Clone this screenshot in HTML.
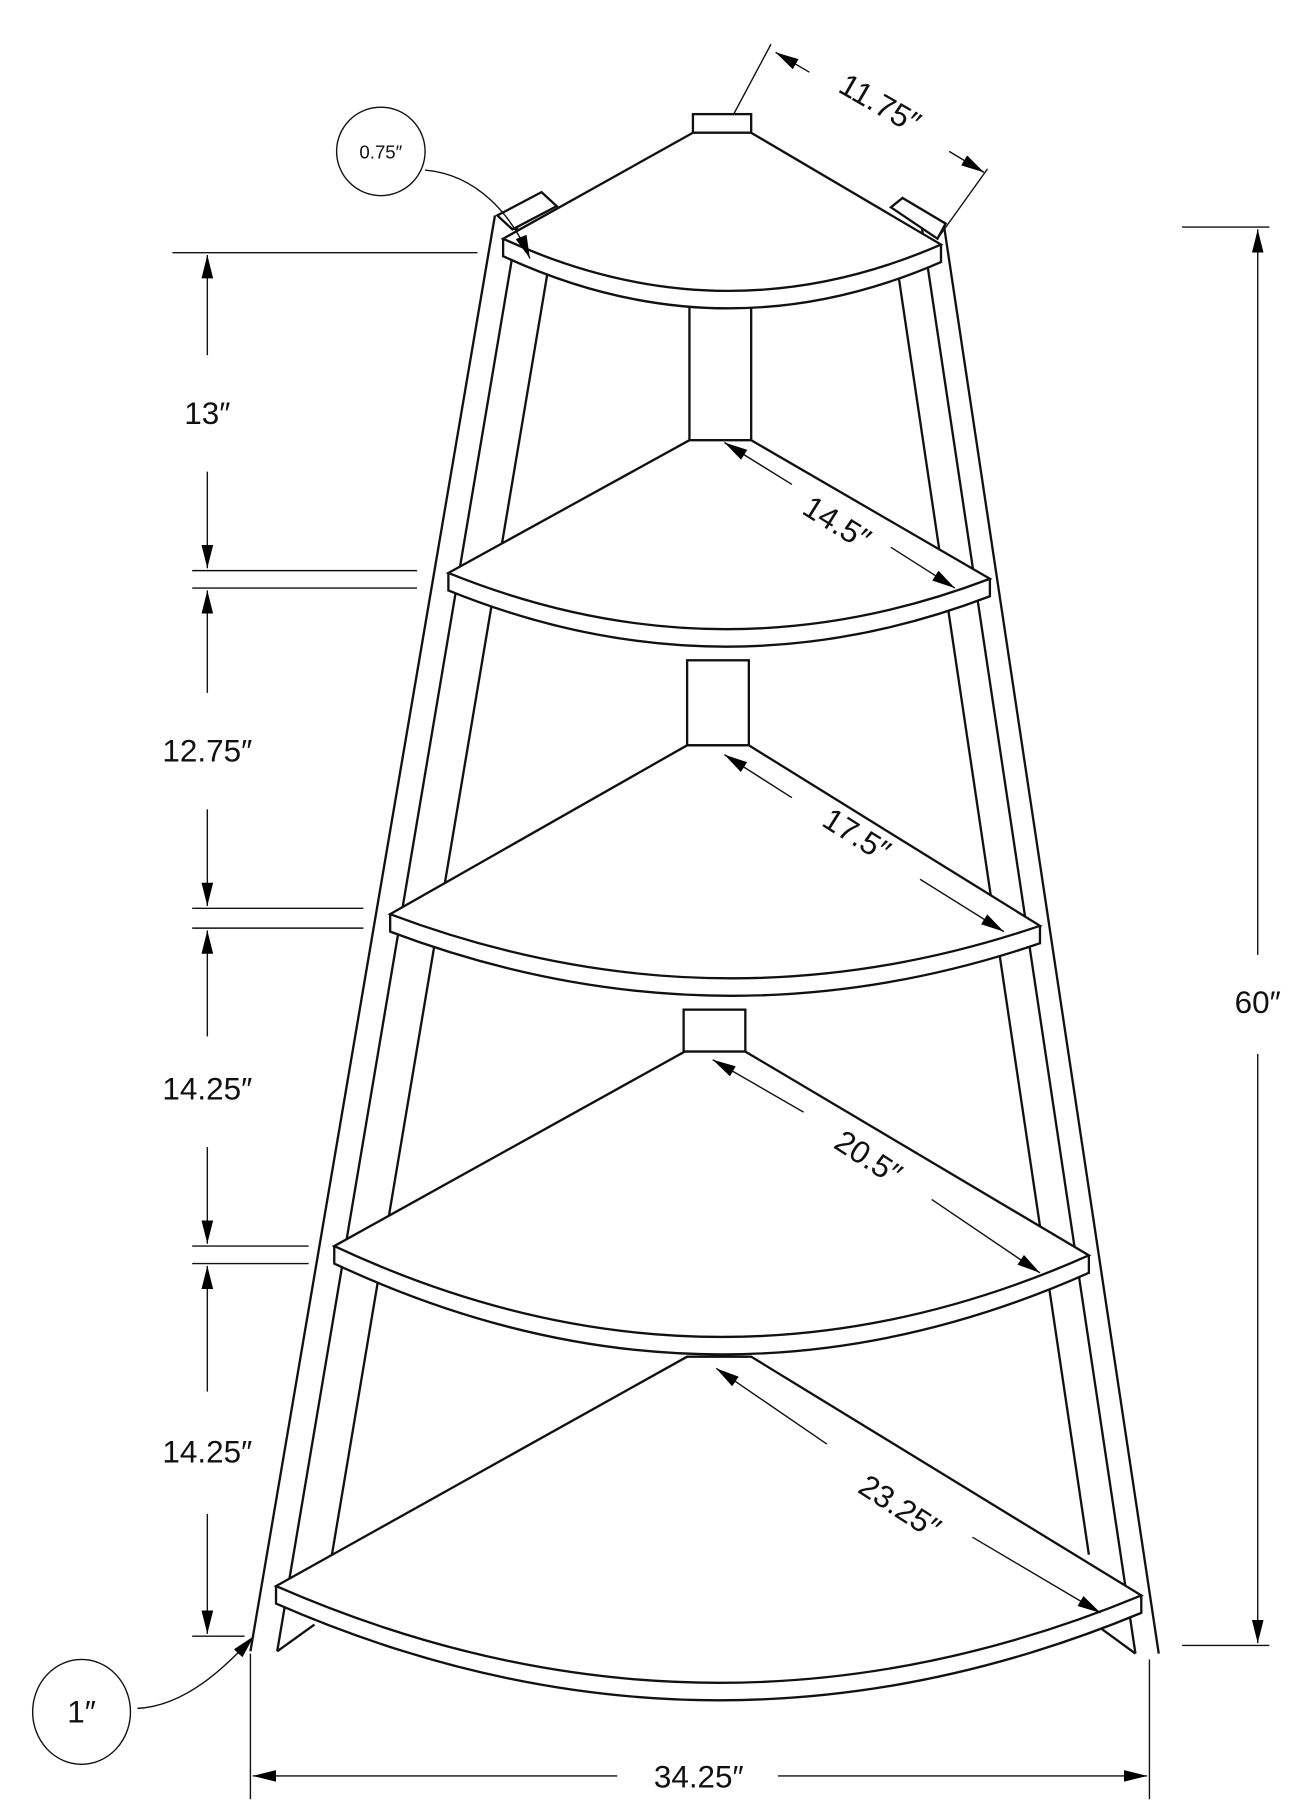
<!DOCTYPE html>
<html><head><meta charset="utf-8"><style>
html,body{margin:0;padding:0;background:#fff;}
svg{display:block;}
text{font-family:"Liberation Sans Narrow","Liberation Sans",sans-serif;fill:#111;}
</style></head><body>
<svg width="1316" height="1819" viewBox="0 0 1130 1562" xmlns="http://www.w3.org/2000/svg">
<defs>
<marker id="a" viewBox="0 0 20 10" refX="20" refY="5" markerWidth="20" markerHeight="10" markerUnits="userSpaceOnUse" orient="auto-start-reverse"><path d="M0,0 L20,5 L0,10 z" fill="#000"/></marker>
</defs>
<g stroke="#111" stroke-width="2" fill="none">
<line x1="425" y1="185" x2="215" y2="1418"/>
<line x1="445" y1="190" x2="238" y2="1418"/>
<line x1="470" y1="235" x2="285" y2="1335"/>
<line x1="810" y1="190" x2="995" y2="1420"/>
<line x1="790" y1="185" x2="975" y2="1420"/>
<line x1="772" y1="240" x2="935" y2="1335"/>
<polyline points="238,1418 270,1395"/>
<polyline points="975,1420 945,1398"/>
<polygon points="427,185 465,165 478,177 440,197" fill="#fff"/>
<polygon points="765,178 775,170 812,192 805,205" fill="#fff"/>
<rect x="595" y="98" width="50" height="16" fill="#fff"/>
<rect x="592" y="263" width="53" height="115" fill="#fff"/>
<rect x="590" y="567" width="53" height="73" fill="#fff"/>
<rect x="587" y="867" width="53" height="36" fill="#fff"/>
<path d="M595,114 L432,205 Q620,292 808,210 L645,114 Z M432,205 L432,220 Q620,307 808,225 L808,210" fill="#fff"/>
<path d="M592,378 L385,492 Q617,586 850,497 L645,378 Z M385,492 L385,507 Q617,601 850,512 L850,497" fill="#fff"/>
<path d="M590,640 L335,785 Q614,890 893,795 L643,640 Z M335,785 L335,800 Q614,905 893,810 L893,795" fill="#fff"/>
<path d="M588,903 L287,1070 Q611,1222 935,1078 L640,903 Z M287,1070 L287,1085 Q611,1237 935,1093 L935,1078" fill="#fff"/>
<path d="M590,1165 L237,1362 Q608,1524 980,1370 L645,1165 Z M237,1362 L237,1377 Q608,1539 980,1385 L980,1370" fill="#fff"/>
</g>
<g stroke="#111" stroke-width="1.2" fill="none">
<line x1="148" y1="217" x2="410" y2="217"/>
<line x1="165" y1="490" x2="358" y2="490"/>
<line x1="165" y1="505" x2="358" y2="505"/>
<line x1="165" y1="780" x2="312" y2="780"/>
<line x1="165" y1="797" x2="312" y2="797"/>
<line x1="165" y1="1070" x2="265" y2="1070"/>
<line x1="165" y1="1085" x2="265" y2="1085"/>
<line x1="165" y1="1405" x2="210" y2="1405"/>
<line x1="178" y1="305" x2="178" y2="219" marker-end="url(#a)"/>
<line x1="178" y1="405" x2="178" y2="488" marker-end="url(#a)"/>
<line x1="178" y1="595" x2="178" y2="507" marker-end="url(#a)"/>
<line x1="178" y1="695" x2="178" y2="778" marker-end="url(#a)"/>
<line x1="178" y1="890" x2="178" y2="799" marker-end="url(#a)"/>
<line x1="178" y1="985" x2="178" y2="1068" marker-end="url(#a)"/>
<line x1="178" y1="1195" x2="178" y2="1087" marker-end="url(#a)"/>
<line x1="178" y1="1300" x2="178" y2="1403" marker-end="url(#a)"/>
<line x1="1015" y1="195" x2="1090" y2="195"/>
<line x1="1015" y1="1413" x2="1090" y2="1413"/>
<line x1="1080" y1="820" x2="1080" y2="197" marker-end="url(#a)"/>
<line x1="1080" y1="905" x2="1080" y2="1411" marker-end="url(#a)"/>
<line x1="215" y1="1420" x2="215" y2="1545"/>
<line x1="987" y1="1425" x2="987" y2="1545"/>
<line x1="530" y1="1525" x2="217" y2="1525" marker-end="url(#a)"/>
<line x1="668" y1="1525" x2="985" y2="1525" marker-end="url(#a)"/>
<line x1="630" y1="98" x2="662" y2="38"/>
<line x1="805" y1="205" x2="848" y2="145"/>
<line x1="695" y1="62" x2="666" y2="45" marker-end="url(#a)"/>
<line x1="815" y1="130" x2="845" y2="148" marker-end="url(#a)"/>
<line x1="680" y1="416" x2="622" y2="380" marker-end="url(#a)"/>
<line x1="765" y1="470" x2="820" y2="505" marker-end="url(#a)"/>
<line x1="680" y1="685" x2="622" y2="648" marker-end="url(#a)"/>
<line x1="790" y1="755" x2="862" y2="800" marker-end="url(#a)"/>
<line x1="690" y1="955" x2="612" y2="910" marker-end="url(#a)"/>
<line x1="800" y1="1030" x2="893" y2="1093" marker-end="url(#a)"/>
<line x1="710" y1="1240" x2="615" y2="1175" marker-end="url(#a)"/>
<line x1="835" y1="1320" x2="945" y2="1385" marker-end="url(#a)"/>
<circle cx="327" cy="130" r="38"/>
<path d="M365,146 C410,150 440,185 455,222" marker-end="url(#a)"/>
<ellipse cx="70" cy="1470" rx="42" ry="45"/>
<path d="M118,1467 C160,1465 195,1430 218,1405" marker-end="url(#a)"/>
</g>
<g font-size="27" font-weight="300">
<text x="178" y="364" text-anchor="middle">13″</text>
<text x="178" y="654" text-anchor="middle">12.75″</text>
<text x="178" y="944" text-anchor="middle">14.25″</text>
<text x="178" y="1256" text-anchor="middle">14.25″</text>
<text x="1080" y="870" text-anchor="middle">60″</text>
<text x="600" y="1535" text-anchor="middle">34.25″</text>
<text x="755" y="98" text-anchor="middle" transform="rotate(30 755 90)">11.75″</text>
<text x="718" y="458" text-anchor="middle" transform="rotate(32 718 450)">14.5″</text>
<text x="735" y="726" text-anchor="middle" transform="rotate(32 735 718)">17.5″</text>
<text x="745" y="1003" text-anchor="middle" transform="rotate(33 745 995)">20.5″</text>
<text x="772" y="1303" text-anchor="middle" transform="rotate(33 772 1295)">23.25″</text>
<text x="70" y="1479" text-anchor="middle">1″</text>
<text x="327" y="136" text-anchor="middle" font-size="16">0.75″</text>
</g>
</svg>
</body></html>
